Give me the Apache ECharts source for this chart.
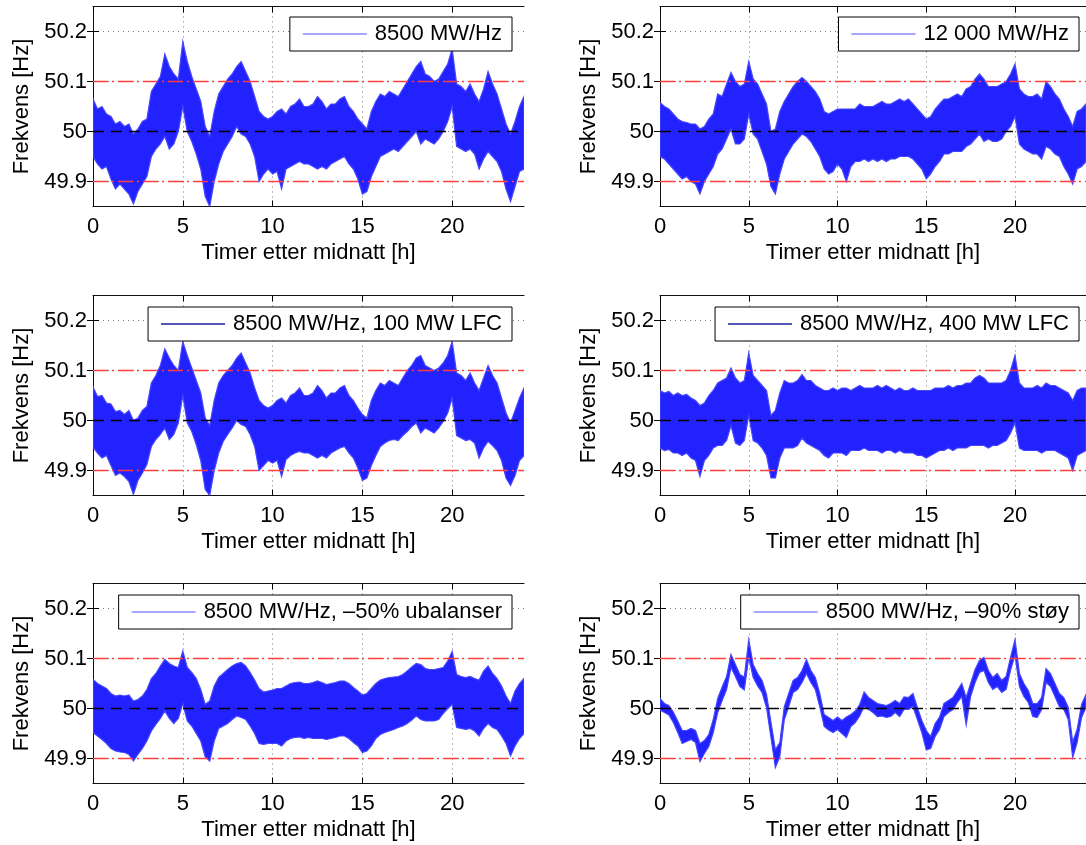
<!DOCTYPE html>
<html>
<head>
<meta charset="utf-8">
<script src="https://cdn.jsdelivr.net/npm/echarts@6/dist/echarts.min.js"></script>
<style>
  html, body { margin: 0; padding: 0; background: #fff; }
  #chart { width: 1086px; height: 845px; }
</style>
</head>
<body>
<div id="chart"></div>
<script>
// Sample times [h] shared by all six simulations
const hours = [
  0, 0.25, 0.5, 0.75, 1, 1.25, 1.5, 1.75, 2, 2.25, 2.5, 2.75, 3, 3.25, 3.5, 3.75,
  4, 4.25, 4.5, 4.75, 5, 5.25, 5.5, 5.75, 6, 6.25, 6.5, 6.75, 7, 7.25, 7.5, 7.75,
  8, 8.25, 8.5, 8.75, 9, 9.25, 9.5, 9.75, 10, 10.25, 10.5, 10.75, 11, 11.25, 11.5, 11.75,
  12, 12.25, 12.5, 12.75, 13, 13.25, 13.5, 13.75, 14, 14.25, 14.5, 14.75, 15, 15.25, 15.5, 15.75,
  16, 16.25, 16.5, 16.75, 17, 17.25, 17.5, 17.75, 18, 18.25, 18.5, 18.75, 19, 19.25, 19.5, 19.75,
  20, 20.25, 20.5, 20.75, 21, 21.25, 21.5, 21.75, 22, 22.25, 22.5, 22.75, 23, 23.25, 23.5, 23.75,
  24
];

const xTicks = [0, 5, 10, 15, 20];
const yTicks = [49.9, 50, 50.1, 50.2];
// nominal frequency and the +/-0.1 Hz band limits
const refLevels = [49.9, 50, 50.1];

const seriesNames = [
  '8500 MW/Hz',
  '12 000 MW/Hz',
  '8500 MW/Hz, 100 MW LFC',
  '8500 MW/Hz, 400 MW LFC',
  '8500 MW/Hz, \u201350% ubalanser',
  '8500 MW/Hz, \u201390% st\u00f8y'
];

// Upper / lower envelope of the frequency [Hz] in each quarter hour
const hi8500 = [
  50.065, 50.045, 50.050, 50.035, 50.030, 50.015, 50.020, 50.010,
  50.015, 49.995, 50.005, 50.020, 50.025, 50.080, 50.095, 50.110,
  50.155, 50.130, 50.115, 50.105, 50.180, 50.140, 50.110, 50.085,
  50.060, 50.010, 49.990, 50.040, 50.075, 50.090, 50.105, 50.115,
  50.130, 50.140, 50.120, 50.100, 50.070, 50.040, 50.030, 50.025,
  50.030, 50.040, 50.045, 50.035, 50.050, 50.055, 50.065, 50.050,
  50.050, 50.055, 50.070, 50.060, 50.045, 50.055, 50.055, 50.065,
  50.070, 50.050, 50.040, 50.025, 50.015, 50.005, 50.040, 50.060,
  50.075, 50.070, 50.080, 50.075, 50.070, 50.085, 50.100, 50.115,
  50.130, 50.140, 50.115, 50.110, 50.100, 50.105, 50.120, 50.135,
  50.165, 50.095, 50.090, 50.080, 50.095, 50.075, 50.060, 50.085,
  50.120, 50.095, 50.075, 50.045, 50.015, 49.995, 50.020, 50.050,
  50.070
];
const lo8500 = [
  49.950, 49.935, 49.925, 49.930, 49.905, 49.885, 49.895, 49.885,
  49.875, 49.855, 49.880, 49.895, 49.910, 49.950, 49.965, 49.975,
  49.990, 49.965, 49.975, 50.000, 50.050, 50.000, 49.980, 49.955,
  49.925, 49.870, 49.850, 49.900, 49.935, 49.960, 49.975, 49.990,
  50.010, 49.995, 49.990, 49.975, 49.950, 49.900, 49.915, 49.925,
  49.915, 49.920, 49.885, 49.925, 49.930, 49.935, 49.940, 49.935,
  49.935, 49.930, 49.925, 49.930, 49.925, 49.935, 49.940, 49.945,
  49.950, 49.935, 49.925, 49.905, 49.875, 49.880, 49.910, 49.930,
  49.950, 49.955, 49.960, 49.965, 49.960, 49.970, 49.980, 49.990,
  50.000, 49.975, 49.985, 49.980, 49.975, 49.985, 50.000, 50.020,
  50.050, 49.970, 49.965, 49.960, 49.965, 49.955, 49.925, 49.945,
  49.960, 49.950, 49.940, 49.920, 49.885, 49.860, 49.890, 49.920,
  49.925
];

const hi12000 = [
  50.058, 50.050, 50.045, 50.035, 50.025, 50.020, 50.018, 50.015,
  50.015, 50.005, 50.010, 50.025, 50.035, 50.075, 50.070, 50.095,
  50.118, 50.100, 50.090, 50.095, 50.140, 50.105, 50.095, 50.075,
  50.055, 50.000, 50.005, 50.040, 50.060, 50.075, 50.090, 50.100,
  50.108, 50.100, 50.090, 50.080, 50.065, 50.040, 50.035, 50.040,
  50.045, 50.045, 50.045, 50.045, 50.045, 50.055, 50.050, 50.050,
  50.050, 50.055, 50.060, 50.055, 50.055, 50.060, 50.065, 50.060,
  50.065, 50.055, 50.045, 50.035, 50.025, 50.030, 50.045, 50.055,
  50.065, 50.065, 50.070, 50.075, 50.070, 50.085, 50.090, 50.105,
  50.115, 50.105, 50.090, 50.090, 50.090, 50.095, 50.100, 50.115,
  50.135, 50.085, 50.075, 50.070, 50.070, 50.075, 50.065, 50.100,
  50.090, 50.075, 50.065, 50.045, 50.030, 50.010, 50.040, 50.045,
  50.055
];
const lo12000 = [
  49.950, 49.945, 49.935, 49.925, 49.915, 49.905, 49.910, 49.900,
  49.895, 49.875, 49.900, 49.915, 49.930, 49.955, 49.965, 49.985,
  50.005, 49.975, 49.975, 49.985, 50.035, 49.995, 49.985, 49.960,
  49.935, 49.890, 49.875, 49.915, 49.945, 49.960, 49.975, 49.985,
  49.995, 49.990, 49.980, 49.965, 49.950, 49.925, 49.915, 49.920,
  49.935, 49.925, 49.900, 49.930, 49.940, 49.940, 49.945, 49.940,
  49.945, 49.940, 49.945, 49.940, 49.945, 49.945, 49.950, 49.950,
  49.950, 49.945, 49.935, 49.925, 49.905, 49.915, 49.930, 49.940,
  49.955, 49.955, 49.960, 49.960, 49.960, 49.970, 49.975, 49.985,
  49.995, 49.980, 49.985, 49.980, 49.980, 49.985, 50.000, 50.010,
  50.030, 49.975, 49.965, 49.960, 49.955, 49.955, 49.945, 49.970,
  49.965, 49.955, 49.950, 49.930, 49.915, 49.895, 49.925, 49.930,
  49.940
];

const hiLfc100 = [
  50.067, 50.048, 50.050, 50.035, 50.033, 50.018, 50.020, 50.012,
  50.020, 50.000, 50.005, 50.020, 50.028, 50.075, 50.090, 50.110,
  50.143, 50.125, 50.110, 50.100, 50.158, 50.130, 50.105, 50.080,
  50.055, 50.005, 49.990, 50.040, 50.075, 50.090, 50.100, 50.110,
  50.125, 50.135, 50.115, 50.095, 50.065, 50.040, 50.030, 50.025,
  50.030, 50.040, 50.045, 50.035, 50.050, 50.055, 50.065, 50.050,
  50.050, 50.055, 50.070, 50.060, 50.045, 50.055, 50.055, 50.065,
  50.070, 50.050, 50.040, 50.025, 50.012, 50.005, 50.040, 50.060,
  50.075, 50.070, 50.080, 50.075, 50.070, 50.085, 50.100, 50.110,
  50.125, 50.130, 50.110, 50.105, 50.100, 50.105, 50.115, 50.130,
  50.158, 50.095, 50.090, 50.080, 50.095, 50.075, 50.060, 50.085,
  50.110, 50.090, 50.075, 50.045, 50.015, 49.995, 50.020, 50.045,
  50.065
];
const loLfc100 = [
  49.947, 49.935, 49.925, 49.930, 49.910, 49.890, 49.895, 49.888,
  49.878, 49.852, 49.880, 49.895, 49.912, 49.948, 49.962, 49.972,
  49.985, 49.962, 49.972, 49.995, 50.050, 49.995, 49.978, 49.952,
  49.920, 49.862, 49.850, 49.900, 49.935, 49.958, 49.972, 49.985,
  50.000, 49.992, 49.988, 49.972, 49.948, 49.900, 49.910, 49.920,
  49.915, 49.920, 49.888, 49.922, 49.930, 49.935, 49.938, 49.935,
  49.935, 49.930, 49.925, 49.930, 49.925, 49.935, 49.940, 49.945,
  49.948, 49.935, 49.925, 49.905, 49.880, 49.885, 49.910, 49.930,
  49.948, 49.955, 49.960, 49.962, 49.960, 49.970, 49.978, 49.988,
  49.995, 49.975, 49.985, 49.980, 49.975, 49.985, 49.998, 50.015,
  50.045, 49.970, 49.965, 49.960, 49.962, 49.955, 49.925, 49.945,
  49.958, 49.950, 49.940, 49.920, 49.885, 49.870, 49.890, 49.920,
  49.930
];

const hiLfc400 = [
  50.060, 50.055, 50.058, 50.050, 50.055, 50.050, 50.052, 50.045,
  50.040, 50.030, 50.035, 50.050, 50.060, 50.075, 50.080, 50.085,
  50.105, 50.085, 50.075, 50.080, 50.135, 50.090, 50.080, 50.070,
  50.060, 50.010, 50.020, 50.055, 50.080, 50.075, 50.075, 50.080,
  50.092, 50.080, 50.080, 50.070, 50.065, 50.060, 50.060, 50.065,
  50.060, 50.065, 50.065, 50.060, 50.065, 50.070, 50.065, 50.065,
  50.065, 50.070, 50.065, 50.070, 50.065, 50.060, 50.065, 50.060,
  50.060, 50.065, 50.060, 50.060, 50.060, 50.060, 50.065, 50.065,
  50.065, 50.070, 50.065, 50.070, 50.070, 50.075, 50.075, 50.085,
  50.090, 50.085, 50.075, 50.075, 50.075, 50.075, 50.080, 50.100,
  50.130, 50.075, 50.065, 50.065, 50.065, 50.070, 50.065, 50.075,
  50.070, 50.070, 50.065, 50.060, 50.055, 50.040, 50.060, 50.065,
  50.065
];
const loLfc400 = [
  49.945, 49.940, 49.942, 49.935, 49.935, 49.930, 49.935, 49.925,
  49.920, 49.888, 49.920, 49.930, 49.945, 49.950, 49.950, 49.960,
  49.990, 49.955, 49.950, 49.960, 50.010, 49.960, 49.955, 49.945,
  49.930, 49.885, 49.885, 49.925, 49.945, 49.945, 49.945, 49.950,
  49.965, 49.955, 49.950, 49.945, 49.940, 49.930, 49.925, 49.935,
  49.935, 49.935, 49.930, 49.940, 49.940, 49.940, 49.945, 49.940,
  49.940, 49.940, 49.935, 49.940, 49.940, 49.935, 49.940, 49.935,
  49.935, 49.935, 49.930, 49.930, 49.925, 49.930, 49.935, 49.940,
  49.940, 49.945, 49.940, 49.945, 49.945, 49.945, 49.950, 49.950,
  49.950, 49.950, 49.945, 49.950, 49.950, 49.955, 49.960, 49.975,
  49.995, 49.945, 49.940, 49.940, 49.940, 49.940, 49.935, 49.940,
  49.940, 49.940, 49.935, 49.930, 49.925, 49.900, 49.930, 49.935,
  49.940
];

const hiImb50 = [
  50.058, 50.050, 50.045, 50.040, 50.030, 50.025, 50.027, 50.025,
  50.027, 50.015, 50.018, 50.025, 50.038, 50.060, 50.070, 50.085,
  50.098, 50.090, 50.085, 50.082, 50.115, 50.082, 50.072, 50.060,
  50.038, 50.008, 50.015, 50.045, 50.062, 50.070, 50.078, 50.085,
  50.090, 50.092, 50.085, 50.072, 50.057, 50.040, 50.033, 50.035,
  50.037, 50.040, 50.040, 50.045, 50.050, 50.052, 50.053, 50.050,
  50.050, 50.052, 50.055, 50.052, 50.048, 50.050, 50.052, 50.055,
  50.055, 50.050, 50.042, 50.035, 50.027, 50.030, 50.040, 50.050,
  50.057, 50.060, 50.062, 50.063, 50.064, 50.068, 50.075, 50.083,
  50.090, 50.088, 50.080, 50.078, 50.078, 50.080, 50.082, 50.095,
  50.114, 50.068, 50.064, 50.062, 50.064, 50.060, 50.057, 50.075,
  50.085, 50.070, 50.060, 50.045, 50.025, 50.010, 50.035, 50.050,
  50.060
];
const loImb50 = [
  49.952, 49.945, 49.938, 49.930, 49.920, 49.915, 49.913, 49.912,
  49.908, 49.895, 49.908, 49.920, 49.935, 49.955, 49.968, 49.980,
  49.995, 49.980, 49.970, 49.980, 50.010, 49.975, 49.965, 49.950,
  49.935, 49.903, 49.895, 49.935, 49.960, 49.965, 49.970, 49.978,
  49.985, 49.982, 49.978, 49.965, 49.950, 49.930, 49.928, 49.930,
  49.930, 49.930, 49.925, 49.935, 49.940, 49.942, 49.943, 49.940,
  49.942, 49.940, 49.940, 49.940, 49.938, 49.940, 49.942, 49.945,
  49.945, 49.940, 49.932, 49.925, 49.912, 49.915, 49.925, 49.940,
  49.948, 49.952, 49.955, 49.958, 49.962, 49.965, 49.970, 49.977,
  49.985, 49.978, 49.975, 49.975, 49.975, 49.978, 49.990, 50.000,
  50.008, 49.962, 49.960, 49.958, 49.960, 49.955, 49.945, 49.960,
  49.970, 49.962, 49.958, 49.945, 49.930, 49.905, 49.925, 49.940,
  49.950
];

const hiNoise90 = [
  50.020, 50.010, 50.006, 49.993, 49.975, 49.956, 49.956, 49.960,
  49.956, 49.930, 49.936, 49.948, 49.978, 50.020, 50.043, 50.064,
  50.108, 50.088, 50.068, 50.063, 50.138, 50.088, 50.070, 50.056,
  50.028, 49.973, 49.918, 49.932, 50.003, 50.030, 50.056, 50.062,
  50.076, 50.098, 50.076, 50.062, 50.030, 49.988, 49.982, 49.976,
  49.983, 49.976, 49.983, 49.988, 49.995, 50.008, 50.033, 50.022,
  50.016, 50.010, 50.008, 50.006, 50.010, 50.016, 50.010, 50.023,
  50.022, 50.030, 50.002, 49.976, 49.956, 49.944, 49.970, 49.983,
  50.010, 50.016, 50.022, 50.036, 50.050, 50.022, 50.050, 50.078,
  50.096, 50.102, 50.076, 50.062, 50.070, 50.056, 50.064, 50.102,
  50.138, 50.070, 50.050, 50.036, 50.010, 50.010, 50.022, 50.080,
  50.070, 50.050, 50.030, 50.022, 50.002, 49.933, 49.958, 50.008,
  50.028
];
const loNoise90 = [
  49.997, 49.992, 49.987, 49.972, 49.952, 49.930, 49.934, 49.938,
  49.932, 49.894, 49.910, 49.924, 49.952, 49.992, 50.016, 50.038,
  50.082, 50.064, 50.044, 50.037, 50.102, 50.062, 50.045, 50.032,
  50.002, 49.942, 49.882, 49.904, 49.977, 50.004, 50.032, 50.038,
  50.052, 50.070, 50.052, 50.038, 50.004, 49.964, 49.957, 49.952,
  49.958, 49.950, 49.942, 49.964, 49.972, 49.985, 50.004, 49.998,
  49.992, 49.984, 49.985, 49.982, 49.984, 49.992, 49.984, 49.998,
  49.998, 50.004, 49.978, 49.952, 49.917, 49.920, 49.944, 49.958,
  49.984, 49.992, 49.998, 50.012, 50.024, 49.967, 50.024, 50.052,
  50.072, 50.076, 50.052, 50.038, 50.044, 50.032, 50.038, 50.077,
  50.107, 50.044, 50.024, 50.012, 49.984, 49.982, 49.998, 50.052,
  50.044, 50.024, 50.004, 49.998, 49.978, 49.902, 49.932, 49.982,
  50.002
];

const FONT = '"Liberation Sans", Arial, Helvetica, sans-serif';
const BLUE = '#2222ff';

// Six subplots, row by row
const panels = [
  { name: seriesNames[0], hi: hi8500,    lo: lo8500,    legendColor: '#8a8aff', col: 0, row: 0 },
  { name: seriesNames[1], hi: hi12000,   lo: lo12000,   legendColor: '#8a8aff', col: 1, row: 0 },
  { name: seriesNames[2], hi: hiLfc100,  lo: loLfc100,  legendColor: '#1c1c9c', col: 0, row: 1 },
  { name: seriesNames[3], hi: hiLfc400,  lo: loLfc400,  legendColor: '#1c1c9c', col: 1, row: 1 },
  { name: seriesNames[4], hi: hiImb50,   lo: loImb50,   legendColor: '#8a8aff', col: 0, row: 2 },
  { name: seriesNames[5], hi: hiNoise90, lo: loNoise90, legendColor: '#8a8aff', col: 1, row: 2 }
];

const colLeft = [93, 660];
const rowTop = [6.5, 295.5, 583.5];
const legendTop = [17, 307, 595];
const legendRight = [574, 7];
const PLOT_W = 431, PLOT_H = 200;

const grids = [], xAxes = [], yAxes = [], series = [], legends = [];

const tickStyle = () => ({ inside: true, length: 6, lineStyle: { color: '#000', width: 1 } });
const frameLine = () => ({ show: true, lineStyle: { color: '#111', width: 1 } });
const gridDots = () => ({ show: true, lineStyle: { color: '#777', width: 1, type: [1, 4] } });
const labelFont = () => ({ fontSize: 22, color: '#000', fontFamily: FONT });

const fmtHz = v => String(parseFloat(Number(v).toFixed(2)));

panels.forEach((p, i) => {
  grids.push({ left: colLeft[p.col], top: rowTop[p.row], width: PLOT_W, height: PLOT_H, containLabel: false });

  // bottom axis with labels, top axis with ticks only
  xAxes.push({
    gridIndex: i, type: 'value', min: 0, max: 24, position: 'bottom',
    axisLine: frameLine(),
    axisTick: Object.assign({ customValues: xTicks }, tickStyle()),
    axisLabel: Object.assign({ customValues: xTicks, margin: 9 }, labelFont()),
    splitLine: gridDots(),
    name: 'Timer etter midnatt [h]', nameLocation: 'middle', nameGap: 35,
    nameTextStyle: labelFont()
  });
  xAxes.push({
    gridIndex: i, type: 'value', min: 0, max: 24, position: 'top',
    axisLine: frameLine(),
    axisTick: Object.assign({ customValues: xTicks }, tickStyle()),
    axisLabel: { show: false },
    splitLine: { show: false }
  });

  yAxes.push({
    gridIndex: i, type: 'value', min: 49.85, max: 50.25, position: 'left',
    axisLine: frameLine(),
    axisTick: Object.assign({ customValues: yTicks }, tickStyle()),
    axisLabel: Object.assign({ customValues: yTicks, margin: 6, formatter: fmtHz }, labelFont()),
    splitLine: gridDots(),
    name: 'Frekvens [Hz]', nameLocation: 'middle', nameGap: 60, nameRotate: 90,
    nameTextStyle: labelFont()
  });
  yAxes.push({
    gridIndex: i, type: 'value', min: 49.85, max: 50.25, position: 'right',
    axisLine: frameLine(),
    axisTick: Object.assign({ customValues: yTicks }, tickStyle()),
    axisLabel: { show: false },
    splitLine: { show: false }
  });

  // filled band between the lower and upper envelope
  series.push({
    type: 'custom', name: p.name, xAxisIndex: 2 * i, yAxisIndex: 2 * i,
    silent: true, z: 2,
    itemStyle: { color: p.legendColor },
    encode: { x: 0, y: [1, 2] },
    data: hours.map((t, k) => [t, p.lo[k], p.hi[k]]),
    renderItem: (params, api) => {
      if (params.dataIndex !== 0) return null;
      const upper = hours.map((t, k) => api.coord([t, p.hi[k]]));
      const lower = hours.map((t, k) => api.coord([t, p.lo[k]])).reverse();
      const cs = params.coordSys;
      return {
        type: 'group',
        clipPath: { type: 'rect', shape: { x: cs.x, y: cs.y, width: cs.width, height: cs.height } },
        children: [{
          type: 'polygon',
          shape: { points: upper.concat(lower) },
          style: { fill: BLUE, stroke: '#4646ff', lineWidth: 1.2 }
        }]
      };
    }
  });

  // reference levels: black dashed nominal, red dash-dot limits, on their own layer above the band
  series.push({
    type: 'custom', name: 'ref' + i, xAxisIndex: 2 * i, yAxisIndex: 2 * i,
    silent: true, zlevel: 1, z: 5,
    encode: { x: 0, y: 1 },
    data: refLevels.map(v => [0, v]),
    renderItem: (params, api) => {
      const level = api.value(1);
      const y = api.coord([0, level])[1];
      const cs = params.coordSys;
      const nominal = Math.abs(level - 50) < 1e-9;
      return {
        type: 'line',
        shape: { x1: cs.x, y1: y, x2: cs.x + cs.width, y2: y },
        style: {
          stroke: nominal ? '#000000' : '#ff3d3d',
          lineWidth: 1.3,
          lineDash: nominal ? [11, 7] : [15, 4, 2, 4],
          fill: null
        }
      };
    }
  });

  legends.push({
    data: [{ name: p.name, icon: 'rect', itemStyle: { color: p.legendColor } }],
    top: legendTop[p.row], right: legendRight[p.col],
    orient: 'horizontal', selectedMode: false,
    backgroundColor: '#fff', borderColor: '#000', borderWidth: 1, borderRadius: 0,
    padding: [6, 10, 6, 13],
    itemWidth: 64, itemHeight: 1.5,
    textStyle: { fontSize: 22, color: '#000', fontFamily: FONT, padding: [0, 0, 0, 3] },
    z: 10
  });
});

const chart = echarts.init(document.getElementById('chart'), null, { renderer: 'canvas' });
chart.setOption({
  animation: false,
  backgroundColor: '#fff',
  grid: grids,
  xAxis: xAxes,
  yAxis: yAxes,
  legend: legends,
  series: series
});
</script>
</body>
</html>
